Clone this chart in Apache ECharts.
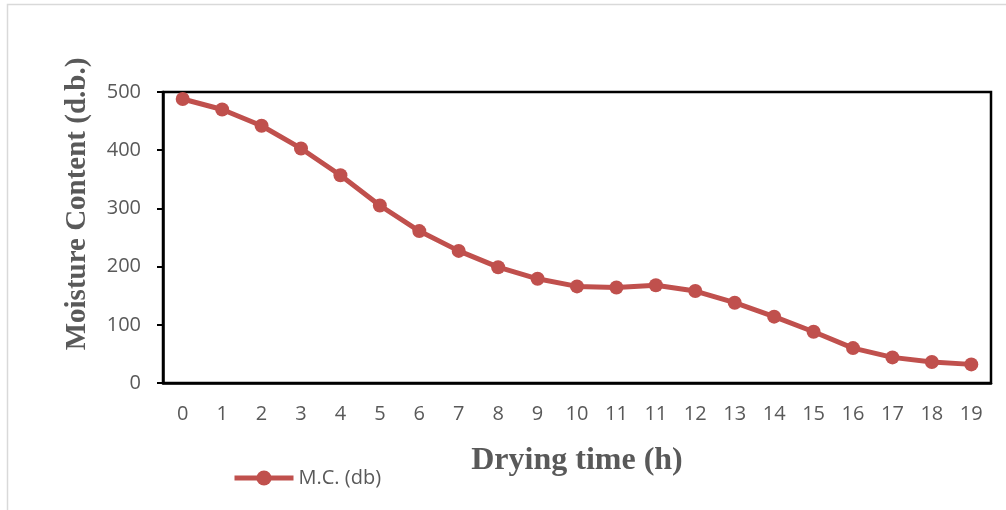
<!DOCTYPE html>
<html>
<head>
<meta charset="utf-8">
<style>
  html, body { margin: 0; padding: 0; background: #ffffff; }
  #chart { width: 1006px; height: 510px; }
</style>
<script src="https://cdn.jsdelivr.net/npm/echarts@6/dist/echarts.min.js"></script>
</head>
<body>
<div id="chart"></div>
<script>
// Drying hours (hour 11 was sampled twice)
const hours = ['0', '1', '2', '3', '4', '5', '6', '7', '8', '9', '10',
               '11', '11', '12', '13', '14', '15', '16', '17', '18', '19'];
// Moisture content, dry basis
const moisture = [488, 470, 442, 403, 357, 305, 261, 227, 199, 179, 166,
                  164, 168, 158, 138, 114, 88, 60, 44, 36, 32];
const yTicks = { min: 0, max: 500, step: 100 };

const lineColor = '#C0504D';
const textGray = '#595959';
const labelFont = '"Open Sans", "Noto Sans", sans-serif';
const titleFont = '"Liberation Serif", "DejaVu Serif", serif';

const chart = echarts.init(document.getElementById('chart'), null, { renderer: 'canvas' });

chart.setOption({
  backgroundColor: '#ffffff',
  animation: false,
  graphic: [
    {
      type: 'rect',
      shape: { x: 7.5, y: 4.5, width: 1020, height: 540 },
      style: { fill: 'none', stroke: '#d9d9d9', lineWidth: 1.5 },
      silent: true
    },
    {
      type: 'text',
      x: 78,
      y: 204,
      rotation: Math.PI / 2,
      style: {
        text: 'Moisture Content (d.b.)',
        font: 'bold 29px ' + titleFont,
        fill: textGray,
        align: 'center',
        verticalAlign: 'middle'
      }
    }
  ],
  legend: {
    left: 227,
    top: 463,
    itemWidth: 59,
    itemHeight: 19,
    itemGap: 4,
    lineStyle: { width: 5, color: lineColor },
    textStyle: { color: textGray, fontSize: 20, fontFamily: labelFont },
    data: ['M.C. (db)']
  },
  grid: {
    left: 163,
    right: 15,
    top: 92,
    bottom: 127,
    show: true,
    borderColor: '#000000',
    borderWidth: 2.5,
    containLabel: false
  },
  xAxis: {
    type: 'category',
    data: hours,
    boundaryGap: true,
    name: 'Drying time (h)',
    nameLocation: 'middle',
    nameGap: 62,
    nameTextStyle: {
      color: textGray,
      fontFamily: titleFont,
      fontWeight: 'bold',
      fontSize: 32
    },
    axisLine: { show: true, lineStyle: { color: '#000000', width: 2.5 } },
    axisTick: { show: false },
    axisLabel: {
      interval: 0,
      color: textGray,
      fontSize: 20,
      fontFamily: labelFont,
      margin: 21
    },
    splitLine: { show: false }
  },
  yAxis: {
    type: 'value',
    min: yTicks.min,
    max: yTicks.max,
    interval: yTicks.step,
    axisLine: { show: true, lineStyle: { color: '#000000', width: 2.5 } },
    axisTick: { show: true, inside: false, length: 6, lineStyle: { color: '#000000', width: 2 } },
    axisLabel: {
      color: textGray,
      fontSize: 20,
      fontFamily: labelFont,
      margin: 22
    },
    splitLine: { show: false }
  },
  series: [
    {
      name: 'M.C. (db)',
      type: 'line',
      data: moisture,
      symbol: 'circle',
      symbolSize: 14,
      itemStyle: { color: lineColor },
      lineStyle: { color: lineColor, width: 5 },
      smooth: false
    }
  ]
});
</script>
</body>
</html>
